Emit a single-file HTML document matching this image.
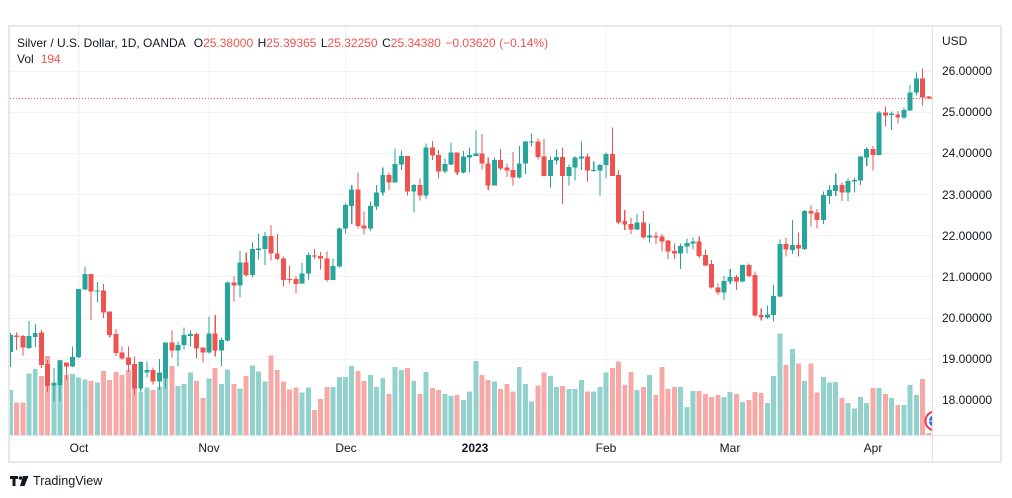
<!DOCTYPE html>
<html><head><meta charset="utf-8"><style>
html,body{margin:0;padding:0;background:#fff}
body{width:1012px;height:498px;position:relative;overflow:hidden;font-family:"Liberation Sans",Arial,sans-serif;color:#131722;font-size:12px}
.t{position:absolute;white-space:nowrap;line-height:14px;height:14px}
.r{color:#ef5350}
.g{margin-left:4.5px}
.p{left:942px}
.tl{position:absolute;top:441px;width:60px;text-align:center;line-height:14px}
</style></head><body>
<div style="position:absolute;left:8px;top:25px;width:994px;height:438px;box-sizing:border-box;border:2px solid #e6e8ec"></div>
<svg width="1012" height="498" style="position:absolute;left:0;top:0" xmlns="http://www.w3.org/2000/svg">
<defs><clipPath id="c"><rect x="10" y="27" width="922" height="408"/></clipPath></defs>
<g fill="#f0f3fa" shape-rendering="crispEdges">
<rect x="10" y="71" width="922" height="1"/><rect x="10" y="112" width="922" height="1"/><rect x="10" y="153" width="922" height="1"/><rect x="10" y="194" width="922" height="1"/><rect x="10" y="235" width="922" height="1"/><rect x="10" y="276" width="922" height="1"/><rect x="10" y="318" width="922" height="1"/><rect x="10" y="359" width="922" height="1"/><rect x="10" y="400" width="922" height="1"/>
</g>
<g clip-path="url(#c)">
<g transform="translate(10.44 0) scale(6.205 1)" shape-rendering="crispEdges">
<path fill="#f0f3fa" d="M10.92 27h.17V435h-.17zM31.92 27h.17V435h-.17zM53.92 27h.17V435h-.17zM74.92 27h.17V435h-.17zM95.92 27h.17V435h-.17zM115.92 27h.17V435h-.17zM138.92 27h.17V435h-.17z"/>
<path fill="#92d2cc" d="M-.4 390h.8V435h-.8zM2.6 373.3h.8V435h-.8zM3.6 369h.8V435h-.8zM6.6 382.7h.8V435h-.8zM7.6 360h.8V435h-.8zM9.6 374h.8V435h-.8zM10.6 377.7h.8V435h-.8zM11.6 379.3h.8V435h-.8zM13.6 382.3h.8V435h-.8zM20.6 391.7h.8V435h-.8zM21.6 387.3h.8V435h-.8zM23.6 386.7h.8V435h-.8zM24.6 360h.8V435h-.8zM26.6 386h.8V435h-.8zM27.6 384h.8V435h-.8zM28.6 372.3h.8V435h-.8zM31.6 378.3h.8V435h-.8zM33.6 384h.8V435h-.8zM34.6 369.3h.8V435h-.8zM36.6 388.3h.8V435h-.8zM38.6 365.3h.8V435h-.8zM39.6 371.3h.8V435h-.8zM40.6 381.3h.8V435h-.8zM46.6 392.3h.8V435h-.8zM47.6 387.7h.8V435h-.8zM51.6 387h.8V435h-.8zM52.6 377h.8V435h-.8zM53.6 377h.8V435h-.8zM54.6 366h.8V435h-.8zM57.6 375h.8V435h-.8zM58.6 387h.8V435h-.8zM59.6 378h.8V435h-.8zM61.6 367h.8V435h-.8zM62.6 370h.8V435h-.8zM64.6 381h.8V435h-.8zM66.6 372h.8V435h-.8zM69.6 394h.8V435h-.8zM70.6 396h.8V435h-.8zM72.6 400h.8V435h-.8zM73.6 391.7h.8V435h-.8zM74.6 361h.8V435h-.8zM77.6 381.7h.8V435h-.8zM81.6 367h.8V435h-.8zM82.6 384h.8V435h-.8zM83.6 401.7h.8V435h-.8zM86.6 376h.8V435h-.8zM87.6 387h.8V435h-.8zM89.6 389h.8V435h-.8zM90.6 389h.8V435h-.8zM91.6 380h.8V435h-.8zM93.6 391.7h.8V435h-.8zM94.6 387h.8V435h-.8zM95.6 372.7h.8V435h-.8zM100.6 390h.8V435h-.8zM102.6 375h.8V435h-.8zM107.6 387h.8V435h-.8zM108.6 407h.8V435h-.8zM109.6 391h.8V435h-.8zM114.6 397h.8V435h-.8zM115.6 392h.8V435h-.8zM117.6 402h.8V435h-.8zM121.6 403h.8V435h-.8zM122.6 376h.8V435h-.8zM123.6 333.3h.8V435h-.8zM125.6 349h.8V435h-.8zM127.6 381h.8V435h-.8zM130.6 377h.8V435h-.8zM131.6 382.7h.8V435h-.8zM132.6 382h.8V435h-.8zM134.6 403h.8V435h-.8zM135.6 408.7h.8V435h-.8zM136.6 397h.8V435h-.8zM137.6 403h.8V435h-.8zM139.6 388h.8V435h-.8zM141.6 398h.8V435h-.8zM143.6 405h.8V435h-.8zM144.6 385h.8V435h-.8zM145.6 395h.8V435h-.8z"/>
<path fill="#f7a9a7" d="M.6 402.3h.8V435h-.8zM1.6 402.3h.8V435h-.8zM4.6 376h.8V435h-.8zM5.6 356h.8V435h-.8zM8.6 375h.8V435h-.8zM12.6 381h.8V435h-.8zM14.6 371h.8V435h-.8zM15.6 380h.8V435h-.8zM16.6 372h.8V435h-.8zM17.6 375h.8V435h-.8zM18.6 370h.8V435h-.8zM19.6 380h.8V435h-.8zM22.6 390h.8V435h-.8zM25.6 366h.8V435h-.8zM29.6 381h.8V435h-.8zM30.6 398h.8V435h-.8zM32.6 368h.8V435h-.8zM35.6 384h.8V435h-.8zM37.6 376h.8V435h-.8zM41.6 355.3h.8V435h-.8zM42.6 370h.8V435h-.8zM43.6 381.3h.8V435h-.8zM44.6 389.3h.8V435h-.8zM45.6 387.3h.8V435h-.8zM48.6 410h.8V435h-.8zM49.6 399h.8V435h-.8zM50.6 387h.8V435h-.8zM55.6 371h.8V435h-.8zM56.6 381h.8V435h-.8zM60.6 394h.8V435h-.8zM63.6 368h.8V435h-.8zM65.6 394h.8V435h-.8zM67.6 388h.8V435h-.8zM68.6 390h.8V435h-.8zM71.6 395h.8V435h-.8zM75.6 375h.8V435h-.8zM76.6 380h.8V435h-.8zM78.6 389h.8V435h-.8zM79.6 384h.8V435h-.8zM80.6 391.7h.8V435h-.8zM84.6 385.7h.8V435h-.8zM85.6 372.7h.8V435h-.8zM88.6 386h.8V435h-.8zM92.6 391.7h.8V435h-.8zM96.6 368h.8V435h-.8zM97.6 361.7h.8V435h-.8zM98.6 385h.8V435h-.8zM99.6 372h.8V435h-.8zM101.6 387h.8V435h-.8zM103.6 395h.8V435h-.8zM104.6 367h.8V435h-.8zM105.6 389h.8V435h-.8zM106.6 387h.8V435h-.8zM110.6 391h.8V435h-.8zM111.6 394h.8V435h-.8zM112.6 397h.8V435h-.8zM113.6 395h.8V435h-.8zM116.6 394h.8V435h-.8zM118.6 400h.8V435h-.8zM119.6 392h.8V435h-.8zM120.6 393h.8V435h-.8zM124.6 365h.8V435h-.8zM126.6 363.3h.8V435h-.8zM128.6 363.3h.8V435h-.8zM129.6 392.7h.8V435h-.8zM133.6 398h.8V435h-.8zM138.6 388h.8V435h-.8zM140.6 394h.8V435h-.8zM142.6 405h.8V435h-.8zM146.6 379h.8V435h-.8zM147.6 433h.8V435h-.8z"/>
<path fill="#26a69a" d="M-.08 333h.17V367h-.17zM2.92 321h.17V349h-.17zM3.92 324h.17V347h-.17zM6.92 368h.17V401.7h-.17zM7.92 360h.17V401.7h-.17zM9.92 346.7h.17V367h-.17zM10.92 289h.17V358h-.17zM11.92 266.7h.17V290h-.17zM13.92 282h.17V302.7h-.17zM20.92 361.7h.17V391h-.17zM21.92 361.7h.17V377.7h-.17zM23.92 359h.17V390h-.17zM24.92 342.3h.17V388.3h-.17zM26.92 341.7h.17V366.7h-.17zM27.92 327.3h.17V349.3h-.17zM28.92 330.7h.17V346.7h-.17zM31.92 316.7h.17V353.3h-.17zM33.92 337.3h.17V366h-.17zM34.92 281.7h.17V341.7h-.17zM36.92 251h.17V297.3h-.17zM38.92 242.7h.17V277.7h-.17zM39.92 233.3h.17V259.3h-.17zM40.92 232h.17V265h-.17zM46.92 263h.17V284h-.17zM47.92 252.7h.17V280h-.17zM51.92 258.3h.17V280.7h-.17zM52.92 227.3h.17V267.7h-.17zM53.92 203h.17V233.7h-.17zM54.92 185h.17V224h-.17zM57.92 201.7h.17V231h-.17zM58.92 185h.17V210h-.17zM59.92 167.3h.17V195.7h-.17zM61.92 148.3h.17V182.7h-.17zM62.92 150.7h.17V170h-.17zM64.92 184h.17V212.7h-.17zM66.92 143.3h.17V199h-.17zM69.92 158.3h.17V173.3h-.17zM70.92 142.3h.17V165h-.17zM72.92 151h.17V173.3h-.17zM73.92 147.3h.17V172.7h-.17zM74.92 130.7h.17V156.7h-.17zM77.92 157.3h.17V185.7h-.17zM81.92 146h.17V178.3h-.17zM82.92 141h.17V174h-.17zM83.92 133.3h.17V146.7h-.17zM86.92 156.7h.17V187.7h-.17zM87.92 149.3h.17V164.3h-.17zM89.92 164.3h.17V185.7h-.17zM90.92 156h.17V180.3h-.17zM91.92 141.7h.17V170h-.17zM93.92 161.7h.17V171.7h-.17zM94.92 163.3h.17V195.7h-.17zM95.92 152.3h.17V178.3h-.17zM100.92 214h.17V230h-.17zM102.92 223.3h.17V242.7h-.17zM107.92 243.3h.17V269h-.17zM108.92 238.7h.17V253.3h-.17zM109.92 237.3h.17V249.3h-.17zM114.92 276h.17V300h-.17zM115.92 269h.17V284h-.17zM117.92 264.3h.17V282.7h-.17zM121.92 305.7h.17V319h-.17zM122.92 285h.17V321.7h-.17zM123.92 239.3h.17V297.3h-.17zM125.92 220h.17V254h-.17zM127.92 210h.17V250h-.17zM130.92 191.7h.17V224h-.17zM131.92 185h.17V204h-.17zM132.92 173.3h.17V196h-.17zM134.92 178.3h.17V201.7h-.17zM135.92 177.3h.17V192.7h-.17zM136.92 156h.17V185h-.17zM137.92 147.3h.17V166h-.17zM139.92 111h.17V155.7h-.17zM141.92 111.7h.17V130h-.17zM143.92 107.3h.17V119h-.17zM144.92 85h.17V111h-.17zM145.92 72.3h.17V95.7h-.17z
M-.4 335h.8V352h-.8zM2.6 336h.8V348h-.8zM3.6 333h.8V337h-.8zM6.6 383h.8V385.7h-.8zM7.6 360.7h.8V385h-.8zM9.6 357h.8V366.7h-.8zM10.6 289h.8V357h-.8zM11.6 274h.8V289.3h-.8zM13.6 290.5h.8V291.5h-.8zM20.6 362h.8V388.3h-.8zM21.6 370h.8V372.3h-.8zM23.6 372.3h.8V381.7h-.8zM24.6 342.3h.8V378.3h-.8zM26.6 345h.8V350.7h-.8zM27.6 335h.8V345h-.8zM28.6 334h.8V336h-.8zM31.6 333.3h.8V352.7h-.8zM33.6 340h.8V350.7h-.8zM34.6 282.7h.8V340.7h-.8zM36.6 262.3h.8V285.7h-.8zM38.6 249h.8V275h-.8zM39.6 248.3h.8V250h-.8zM40.6 236h.8V249h-.8zM46.6 273.3h.8V283.3h-.8zM47.6 255h.8V273.3h-.8zM51.6 266h.8V280h-.8zM52.6 228.3h.8V266.7h-.8zM53.6 205h.8V228.3h-.8zM54.6 189.3h.8V206h-.8zM57.6 206h.8V228.7h-.8zM58.6 192.3h.8V206.7h-.8zM59.6 175h.8V192.7h-.8zM61.6 164h.8V182.3h-.8zM62.6 156h.8V164.3h-.8zM64.6 185h.8V191.7h-.8zM66.6 147.3h.8V195.7h-.8zM69.6 164h.8V171.7h-.8zM70.6 152.3h.8V164.3h-.8zM72.6 156.7h.8V172.7h-.8zM73.6 155h.8V157.7h-.8zM74.6 153.3h.8V156h-.8zM77.6 160h.8V185.7h-.8zM81.6 163.3h.8V177.7h-.8zM82.6 141.7h.8V163.3h-.8zM83.6 141.7h.8V142.7h-.8zM86.6 160h.8V176h-.8zM87.6 157h.8V160.7h-.8zM89.6 167h.8V176h-.8zM90.6 157.7h.8V167.7h-.8zM91.6 156.7h.8V158.3h-.8zM93.6 170h.8V171h-.8zM94.6 165h.8V170.7h-.8zM95.6 154h.8V165h-.8zM100.6 222.3h.8V229.3h-.8zM102.6 235.3h.8V237.7h-.8zM107.6 246h.8V253.7h-.8zM108.6 243h.8V246.7h-.8zM109.6 241.7h.8V243.3h-.8zM114.6 281h.8V292.7h-.8zM115.6 277h.8V281.7h-.8zM117.6 265h.8V281.7h-.8zM121.6 314.3h.8V317.3h-.8zM122.6 296h.8V315h-.8zM123.6 244h.8V296.7h-.8zM125.6 245h.8V250h-.8zM127.6 211h.8V249h-.8zM130.6 195h.8V220h-.8zM131.6 190h.8V196h-.8zM132.6 185h.8V191h-.8zM134.6 181h.8V192.7h-.8zM135.6 180h.8V181.7h-.8zM136.6 156.7h.8V180.7h-.8zM137.6 149h.8V157.7h-.8zM139.6 112.3h.8V155h-.8zM141.6 113.3h.8V115h-.8zM143.6 110h.8V117.7h-.8zM144.6 92.3h.8V110.7h-.8zM145.6 78.3h.8V92.7h-.8z"/>
<path fill="#ef5350" d="M.92 332.7h.17V350h-.17zM1.92 335h.17V355.7h-.17zM4.92 330h.17V368h-.17zM5.92 360h.17V392h-.17zM8.92 362.7h.17V380h-.17zM12.92 274h.17V320h-.17zM14.92 284h.17V318h-.17zM15.92 311.7h.17V337.7h-.17zM16.92 329h.17V356h-.17zM17.92 346.7h.17V360h-.17zM18.92 346.7h.17V372h-.17zM19.92 356.7h.17V395.7h-.17zM22.92 367.3h.17V384.3h-.17zM25.92 330.7h.17V357.7h-.17zM29.92 332.7h.17V358.3h-.17zM30.92 347.7h.17V362.7h-.17zM32.92 315h.17V356.7h-.17zM35.92 276h.17V301.7h-.17zM37.92 252.3h.17V276.7h-.17zM41.92 225h.17V260.7h-.17zM42.92 234h.17V260h-.17zM43.92 256.7h.17V286.7h-.17zM44.92 265.7h.17V283.3h-.17zM45.92 276h.17V293.3h-.17zM48.92 249h.17V259h-.17zM49.92 252h.17V269.3h-.17zM50.92 251.3h.17V281.7h-.17zM55.92 172.7h.17V228.7h-.17zM56.92 211.7h.17V234.3h-.17zM60.92 172.7h.17V190h-.17zM63.92 156h.17V195.7h-.17zM65.92 178.3h.17V200.7h-.17zM67.92 141h.17V160h-.17zM68.92 150h.17V178.3h-.17zM71.92 152.3h.17V175h-.17zM75.92 134h.17V169.3h-.17zM76.92 157.3h.17V190h-.17zM78.92 149h.17V170h-.17zM79.92 163.3h.17V177h-.17zM80.92 152h.17V185.7h-.17zM84.92 138.3h.17V159.3h-.17zM85.92 139h.17V176.7h-.17zM88.92 147.3h.17V204h-.17zM92.92 153.3h.17V181.7h-.17zM96.92 127.3h.17V176h-.17zM97.92 170h.17V224h-.17zM98.92 210h.17V230h-.17zM99.92 217.3h.17V234h-.17zM101.92 211h.17V238.3h-.17zM103.92 231.7h.17V244h-.17zM104.92 234h.17V251.7h-.17zM105.92 240h.17V259h-.17zM106.92 243.3h.17V259h-.17zM110.92 236.7h.17V257.7h-.17zM111.92 249.3h.17V266h-.17zM112.92 260h.17V288.3h-.17zM113.92 283.3h.17V295h-.17zM116.92 275h.17V290h-.17zM118.92 263.3h.17V277.3h-.17zM119.92 271.7h.17V316.7h-.17zM120.92 308.3h.17V320.7h-.17zM124.92 237.3h.17V256.7h-.17zM126.92 232.3h.17V256.7h-.17zM128.92 205.7h.17V226.7h-.17zM129.92 209h.17V228.7h-.17zM133.92 182.7h.17V201h-.17zM138.92 146h.17V170.7h-.17zM140.92 106.7h.17V126.7h-.17zM142.92 111h.17V123.3h-.17zM146.92 68.3h.17V105.7h-.17zM147.92 96h.17V98.7h-.17z
M.6 335.7h.8V337h-.8zM1.6 336h.8V347.7h-.8zM4.6 332.7h.8V365h-.8zM5.6 364h.8V386h-.8zM8.6 362.7h.8V366.7h-.8zM12.6 274h.8V291.7h-.8zM14.6 290.7h.8V312.7h-.8zM15.6 311.7h.8V335h-.8zM16.6 334h.8V353h-.8zM17.6 352.7h.8V358.3h-.8zM18.6 357.7h.8V365h-.8zM19.6 364h.8V388.3h-.8zM22.6 370h.8V381.7h-.8zM25.6 342.3h.8V350.7h-.8zM29.6 334h.8V348.3h-.8zM30.6 347.7h.8V352.7h-.8zM32.6 333.3h.8V350.7h-.8zM35.6 282.7h.8V285.7h-.8zM37.6 262.3h.8V275h-.8zM41.6 236h.8V253.3h-.8zM42.6 253.3h.8V259h-.8zM43.6 258.3h.8V280h-.8zM44.6 279h.8V280h-.8zM45.6 279h.8V284h-.8zM48.6 255.7h.8V256.7h-.8zM49.6 256h.8V258.3h-.8zM50.6 258.3h.8V280h-.8zM55.6 189.3h.8V226h-.8zM56.6 225.3h.8V228.7h-.8zM60.6 175h.8V182.3h-.8zM63.6 156h.8V191.7h-.8zM65.6 185h.8V195.7h-.8zM67.6 147.3h.8V155.7h-.8zM68.6 155h.8V171.7h-.8zM71.6 152.3h.8V172.7h-.8zM75.6 153.3h.8V163.3h-.8zM76.6 163.3h.8V185.7h-.8zM78.6 160h.8V168.3h-.8zM79.6 167.7h.8V170.3h-.8zM80.6 170h.8V177.7h-.8zM84.6 141.7h.8V157h-.8zM85.6 156.3h.8V176h-.8zM88.6 157h.8V176h-.8zM92.6 156.7h.8V170.7h-.8zM96.6 154h.8V176h-.8zM97.6 175h.8V222.3h-.8zM98.6 221h.8V224.3h-.8zM99.6 224h.8V229.3h-.8zM101.6 222.3h.8V237.7h-.8zM103.6 236h.8V237.3h-.8zM104.6 236.7h.8V241.7h-.8zM105.6 240.7h.8V251.7h-.8zM106.6 251h.8V253.7h-.8zM110.6 241.7h.8V256h-.8zM111.6 255h.8V265.3h-.8zM112.6 264h.8V287.7h-.8zM113.6 287.3h.8V292.7h-.8zM116.6 277h.8V281.7h-.8zM118.6 265h.8V276h-.8zM119.6 275h.8V315.7h-.8zM120.6 315h.8V317.3h-.8zM124.6 244h.8V249.3h-.8zM126.6 245h.8V248.7h-.8zM128.6 211h.8V213.3h-.8zM129.6 212.7h.8V220h-.8zM133.6 185h.8V192.7h-.8zM138.6 149h.8V155h-.8zM140.6 112.3h.8V115.7h-.8zM142.6 114.3h.8V117.7h-.8zM146.6 78.3h.8V97.7h-.8zM147.6 96.7h.8V98.3h-.8z"/>
</g>
<line x1="10" y1="98.5" x2="932" y2="98.5" stroke="#ef5350" stroke-width="1" stroke-dasharray="1 2"/>
<circle cx="935" cy="421" r="9.5" fill="#fff" stroke="#f23645" stroke-width="2"/>
<circle cx="935" cy="421" r="6" fill="#2962ff"/>
<path d="M929 421h12M935 415v12" stroke="#fff" stroke-width="1"/>
</g>
<g fill="#e0e3eb" shape-rendering="crispEdges">
<rect x="932" y="27" width="1" height="434"/>
<rect x="10" y="435" width="990" height="1"/>
</g>
<g fill="#131722">
<path d="M10 476h8v3h-2.5v7h-3v-7h-2.5z"/>
<circle cx="20.5" cy="478" r="1.8"/>
<path d="M23 476h5.5l-4 10h-4.5z"/>
</g>
</svg>
<div class="t" style="left:17px;top:36px">Silver / U.S. Dollar, 1D, OANDA<span style="margin-left:8px">O</span><span class="r">25.38000</span><span class="g">H</span><span class="r">25.39365</span><span class="g">L</span><span class="r">25.32250</span><span class="g">C</span><span class="r">25.34380</span><span class="r g">−0.03620 (−0.14%)</span></div>
<div class="t" style="left:17px;top:52px">Vol<span class="r" style="margin-left:7px">194</span></div>
<div class="t p" style="top:34px">USD</div>
<div class="t p" style="top:64px">26.00000</div>
<div class="t p" style="top:105px">25.00000</div>
<div class="t p" style="top:146px">24.00000</div>
<div class="t p" style="top:188px">23.00000</div>
<div class="t p" style="top:229px">22.00000</div>
<div class="t p" style="top:270px">21.00000</div>
<div class="t p" style="top:311px">20.00000</div>
<div class="t p" style="top:352px">19.00000</div>
<div class="t p" style="top:393px">18.00000</div>
<div class="tl" style="left:49px">Oct</div>
<div class="tl" style="left:179px">Nov</div>
<div class="tl" style="left:316px">Dec</div>
<div class="tl" style="left:445px;font-weight:bold">2023</div>
<div class="tl" style="left:576px">Feb</div>
<div class="tl" style="left:700px">Mar</div>
<div class="tl" style="left:843px">Apr</div>
<div class="t" style="left:33px;top:474px;font-size:12.6px;line-height:14px">TradingView</div>
</body></html>
